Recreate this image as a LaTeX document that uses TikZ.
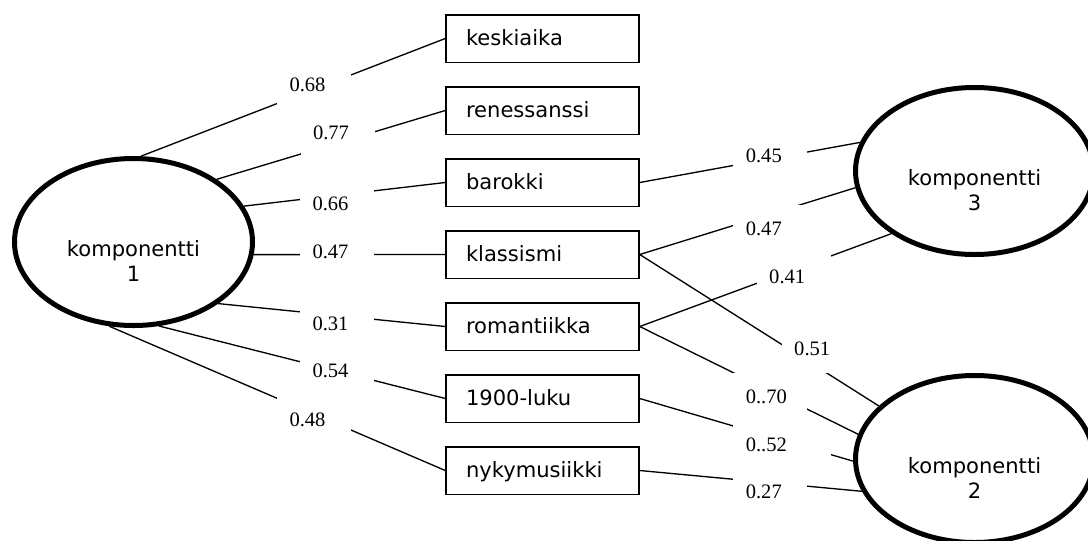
\documentclass[tikz,border=0pt]{standalone}
\usepackage{fontspec}
\setmainfont{Liberation Serif}
\newfontfamily\dvs{DejaVu Sans}
\usetikzlibrary{shapes.geometric}
\begin{document}
\begin{tikzpicture}[x=0.75pt,y=-0.75pt,
  conn/.style={line width=1pt},
  period/.style={draw, line width=1.1pt, rectangle, minimum width=144.75pt, minimum height=35.6pt,
    inner xsep=15pt, inner ysep=0pt, text width=114.75pt, align=left,
    text height=12pt, text depth=2.2pt, font=\dvs\fontsize{15.8}{19}\selectfont},
  comp/.style={ellipse, draw, line width=3.75pt, minimum width=178.5pt, minimum height=125.25pt, inner sep=0pt},
  comptext/.style={align=center, inner sep=0pt, font=\dvs\fontsize{15.8}{18.75}\selectfont},
  coef/.style={fill=white, inner xsep=0pt, inner ysep=0pt, text width=55.5pt, minimum height=36pt,
    align=left, font=\fontsize{15.4}{18}\selectfont},
]
\useasboundingbox (0,0) rectangle (1088,540);
\clip (0,0) rectangle (1088,540);

% components
\node[comp] (k1) at (133.5,242) {};
\node[comp] (k3) at (974.5,171) {};
\node[comp] (k2) at (974.5,459) {};
\node[comptext] (t1) at (133.5,261) {komponentti\\1};
\node[comptext] (t3) at (974.5,190) {komponentti\\3};
\node[comptext] (t2) at (974.5,478) {komponentti\\2};

% variables
\node[period] (kesk) at (542.5,38.5) {keskiaika};
\node[period] (ren)  at (542.5,110.5) {renessanssi};
\node[period] (bar)  at (542.5,182.5) {barokki};
\node[period] (kla)  at (542.5,254.5) {klassismi};
\node[period] (rom)  at (542.5,326.5) {romantiikka};
\node[period] (luku) at (542.5,398.5) {1900-luku};
\node[period] (nyky) at (542.5,470.5) {nykymusiikki};

% connectors to component 1
\draw[conn] (k1.85) -- (kesk.west);
\draw[conn] (k1.37) -- (ren.west);
\draw[conn] (k1.18) -- (bar.west);
\draw[conn] (k1.-6) -- (kla.west);
\draw[conn] (k1.-36.6) -- (rom.west);
\draw[conn] (k1.-73.9) -- (luku.west);
\draw[conn] (k1.-106.9) -- (nyky.west);

% connectors to component 3
\draw[conn] (bar.east) -- (k3.166.3);
\draw[conn] (kla.east) -- (k3.188.7);
\draw[conn] (rom.east) -- (k3.217.7);

% connectors to component 2
\draw[conn] (kla.east) -- (k2.151.9);
\draw[conn] (rom.east) -- (k2.168.5);
\draw[conn] (luku.east) -- (k2.181.7);
\draw[conn] (nyky.east) -- (k2.196.9);

% loadings
\node[coef] (c1) at (314,85) {\hspace*{9.4pt}0.68};
\node[coef] (c2) at (337.5,133) {\hspace*{9.4pt}0.77};
\node[coef] (c3) at (337,204) {\hspace*{9.4pt}0.66};
\node[coef] (c4) at (337,252) {\hspace*{9.4pt}0.47};
\node[coef] (c5) at (337,324) {\hspace*{9.4pt}0.31};
\node[coef] (c6) at (337,371) {\hspace*{9.4pt}0.54};
\node[coef] (c7) at (314,420) {\hspace*{9.4pt}0.48};
\node[coef] (c8) at (770.3,156) {\hspace*{9.4pt}0.45};
\node[coef] (c9) at (770.3,228.7) {\hspace*{9.4pt}0.47};
\node[coef] (c10) at (793.7,276.7) {\hspace*{9.4pt}0.41};
\node[coef] (c11) at (818.7,349) {\hspace*{9.4pt}0.51};
\node[coef] (c12) at (770.3,396.7) {\hspace*{9.4pt}0..70};
\node[coef, text width=73.5pt, minimum height=30pt] (c13) at (782.3,445) {\hspace*{9.4pt}0..52};
\node[coef] (c14) at (770.3,492) {\hspace*{9.4pt}0.27};
\end{tikzpicture}
\end{document}
